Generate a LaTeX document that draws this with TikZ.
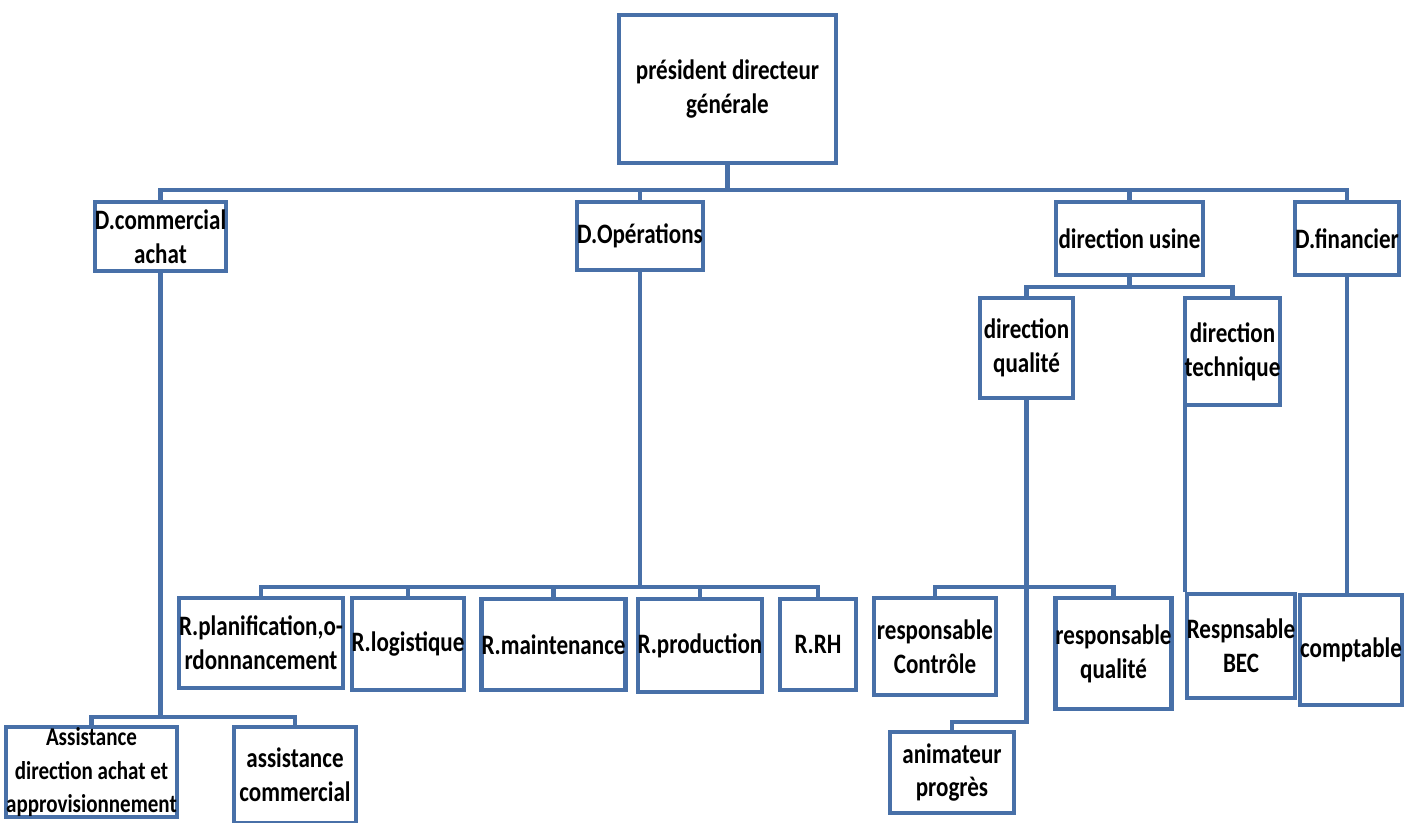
\documentclass[tikz,border=0pt]{standalone}
\usepackage{fontspec}
\setmainfont{Carlito}[FakeStretch=0.82]
\usetikzlibrary{positioning}
\definecolor{boxblue}{RGB}{72,112,168}

\begin{document}
\begin{tikzpicture}[x=0.02cm,y=-0.02cm]
\tikzset{
  orgbox/.style={rectangle,draw=boxblue,line width=2.4pt,fill=white,align=center,inner sep=0pt,
    font=\fontsize{16}{19.3}\selectfont\bfseries},
  link/.style={draw=boxblue,line width=2.4pt}
}
\useasboundingbox (0,0) rectangle (1408,822);
\clip (0,0) rectangle (1408,822);
% top level
\node[orgbox,minimum width=4.34cm,minimum height=2.96cm] (n_pdg) at (727.5,89) {président directeur\\générale};
% directions
\node[orgbox,minimum width=2.62cm,minimum height=1.38cm] (n_dca) at (160.5,236.5) {D.commercial\\achat};
\node[orgbox,minimum width=2.48cm,minimum height=1.36cm] (n_dop) at (640,236) {D.Opérations};
\node[orgbox,minimum width=2.94cm,minimum height=1.46cm] (n_du) at (1129.5,238.5) {direction usine};
\node[orgbox,minimum width=2.04cm,minimum height=1.46cm] (n_dfi) at (1347,238.5) {D.financier};
\node[orgbox,minimum width=1.86cm,minimum height=2.00cm] (n_dq) at (1026.5,348) {direction\\qualité};
\node[orgbox,minimum width=1.86cm,minimum height=2.14cm] (n_dt) at (1232.5,351.5) {direction\\technique};
% responsables
\node[orgbox,minimum width=2.84cm,minimum height=1.80cm] (n_rpl) at (261,643) {R.planification,o-\\rdonnancement};
\node[orgbox,minimum width=2.08cm,minimum height=1.84cm] (n_rlo) at (408,644) {R.logistique};
\node[orgbox,minimum width=2.58cm,minimum height=1.82cm] (n_rma) at (553.5,644.5) {R.maintenance};
\node[orgbox,minimum width=2.16cm,minimum height=1.86cm] (n_rpr) at (700,645.5) {R.production};
\node[orgbox,minimum width=1.52cm,minimum height=1.82cm] (n_rrh) at (818,644.5) {R.RH};
\node[orgbox,minimum width=2.44cm,minimum height=1.94cm] (n_rc) at (935,646.5) {responsable\\Contrôle};
\node[orgbox,minimum width=2.10cm,minimum height=2.22cm] (n_rq) at (1113.5,653.5) {responsable\\qualité};
\node[orgbox,minimum width=2.48cm,minimum height=1.62cm] (n_ap) at (952,772.5) {animateur\\progrès};
\node[orgbox,minimum width=1.88cm,minimum height=2.08cm] (n_bec) at (1241,646) {Respnsable\\BEC};
\node[orgbox,minimum width=2.04cm,minimum height=2.20cm] (n_cpt) at (1351,650) {comptable};
% assistance
\node[orgbox,minimum width=3.26cm,minimum height=1.80cm,font=\fontsize{14.6}{19.3}\selectfont\bfseries] (n_ada) at (91.5,772) {Assistance\\direction achat et\\approvisionnement};
\node[orgbox,minimum width=2.44cm,minimum height=1.92cm] (n_ac) at (295,775) {assistance\\commercial};
% links
\draw[link] (n_pdg.south) -- ++(0,25) -| (n_dca);
\draw[link] (n_pdg.south) -- ++(0,25) -| (n_dop);
\draw[link] (n_pdg.south) -- ++(0,25) -| (n_du);
\draw[link] (n_pdg.south) -- ++(0,25) -| (n_dfi);
\draw[link] (n_du.south) -- ++(0,10) -| (n_dq);
\draw[link] (n_du.south) -- ++(0,10) -| (n_dt);
\draw[link] (n_dop.south) -- ++(0,315) -| (n_rpl);
\draw[link] (n_dop.south) -- ++(0,315) -| (n_rlo);
\draw[link] (n_dop.south) -- ++(0,315) -| (n_rma);
\draw[link] (n_dop.south) -- ++(0,315) -| (n_rpr);
\draw[link] (n_dop.south) -- ++(0,315) -| (n_rrh);
\draw[link] (n_dq.south) -- ++(0,187) -| (n_rc);
\draw[link] (n_dq.south) -- ++(0,187) -| (n_rq);
\draw[link] (n_dq.south) -- ++(0,322) -| (n_ap);
\draw[link] (n_dca.south) -- ++(0,444) -| (n_ada);
\draw[link] (n_dca.south) -- ++(0,444) -| (n_ac);
\draw[link] (n_bec.north west) -- (n_bec.north west |- n_dt.south);
\draw[link] (n_dfi.south) -- (n_dfi.south |- n_cpt.north);
\end{tikzpicture}
\end{document}
